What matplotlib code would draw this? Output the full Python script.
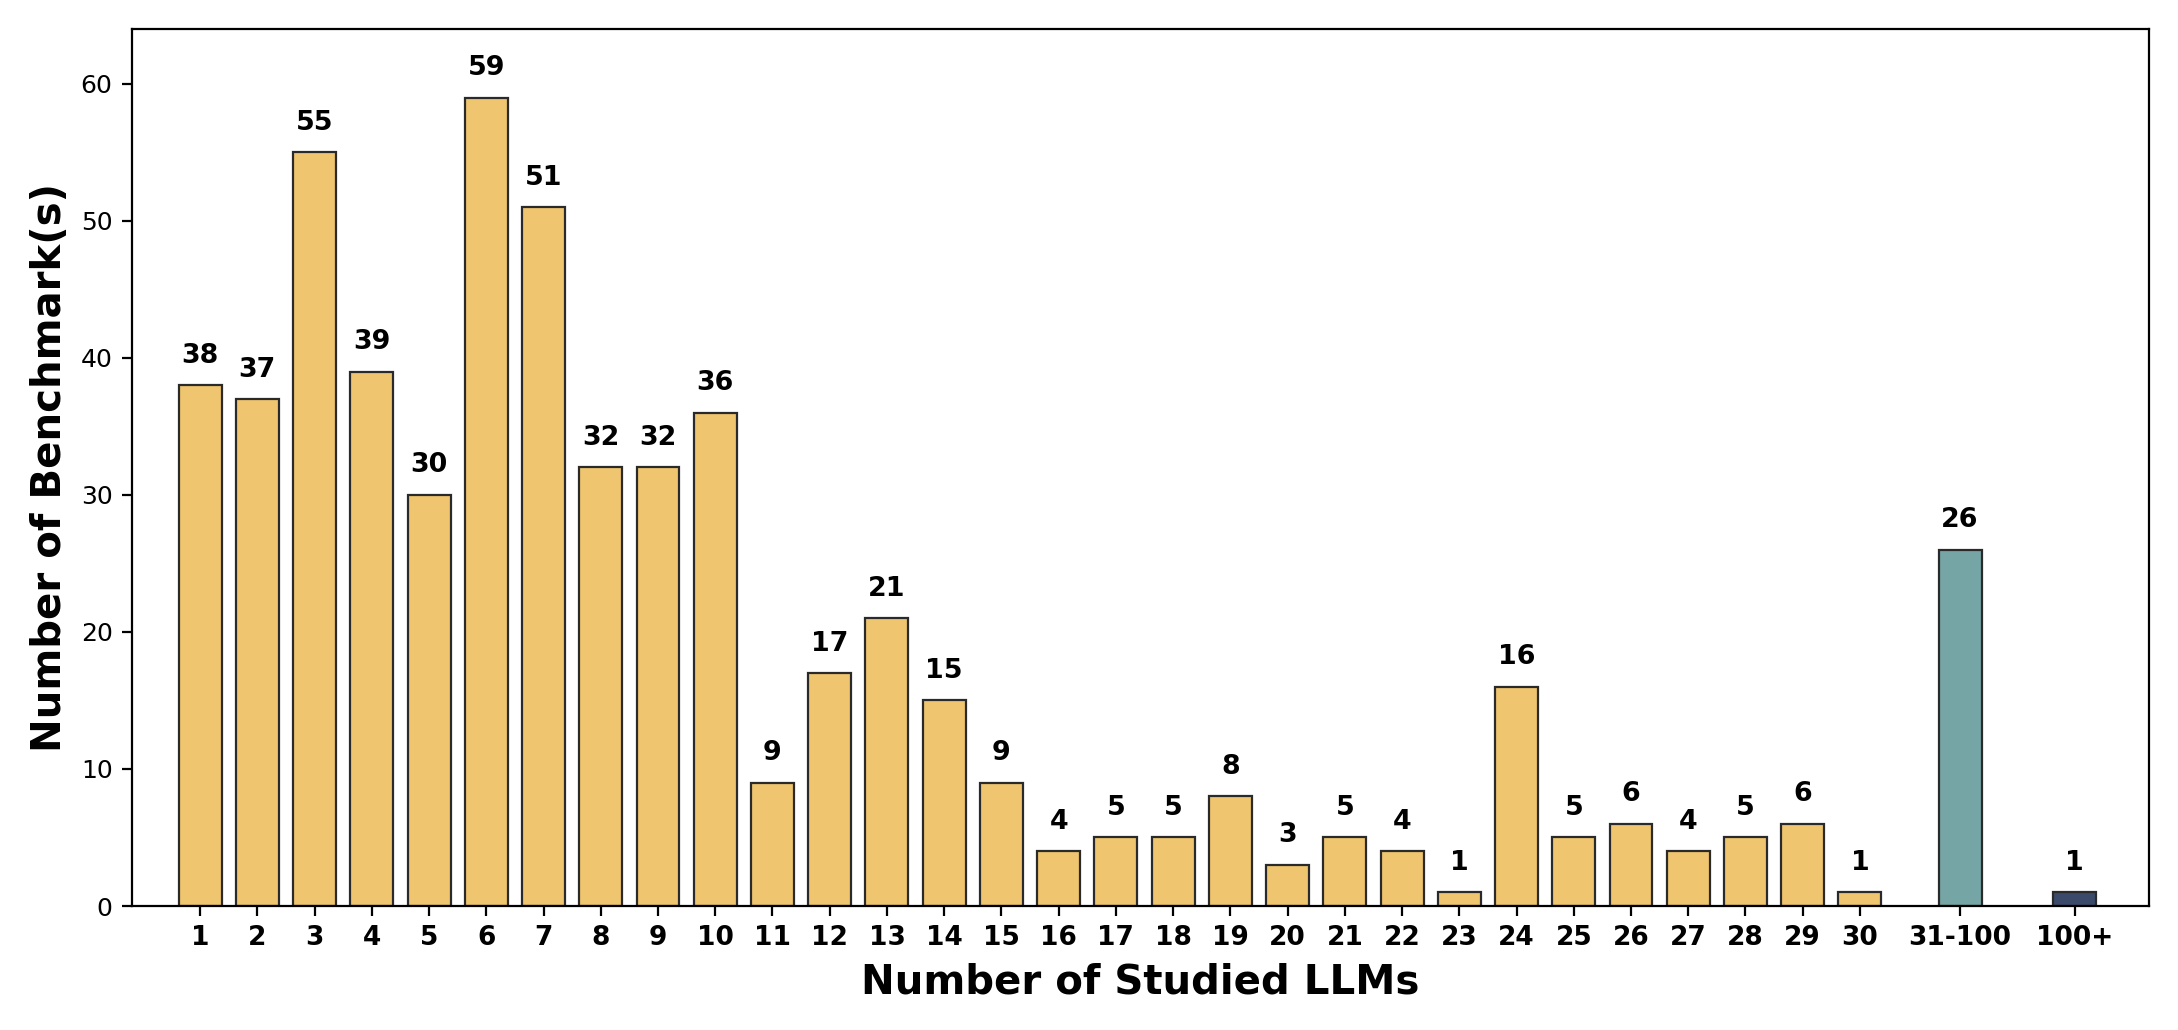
import numpy as np
import matplotlib
matplotlib.use("Agg")
import matplotlib.pyplot as plt

labels = [str(i) for i in range(1, 31)] + ["31-100", "100+"]
counts = [38, 37, 55, 39, 30, 59, 51, 32, 32, 36,
          9, 17, 21, 15, 9, 4, 5, 5, 8, 3,
          5, 4, 1, 16, 5, 6, 4, 5, 6, 1,
          26, 1]

positions = list(range(30)) + [30.75, 32.75]
colors = ["#EFC66F"] * 30 + ["#76A5A5", "#3B4A6B"]

fig, ax = plt.subplots(figsize=(10.89, 5.15), dpi=200)
bars = ax.bar(positions, counts, width=0.75, color=colors,
              edgecolor="#2a2a2a", linewidth=0.8)

for x, v in zip(positions, counts):
    ax.text(x, v + 1.2, str(v), ha="center", va="bottom",
            fontsize=9.7, fontweight="bold")

ax.set_xticks(positions)
ax.set_xticklabels(labels, fontsize=9.5, fontweight="bold")
ax.tick_params(axis="y", labelsize=9)
ax.set_xlim(-1.19, 34.05)
ax.set_ylim(0, 64)
ax.set_xlabel("Number of Studied LLMs", fontsize=14.5, fontweight="bold")
ax.set_ylabel("Number of Benchmark(s)", fontsize=14.5, fontweight="bold")

plt.subplots_adjust(left=132/2178, right=2149/2178, top=1-29/1030, bottom=1-906/1030)
plt.savefig("out.png", dpi=200)
